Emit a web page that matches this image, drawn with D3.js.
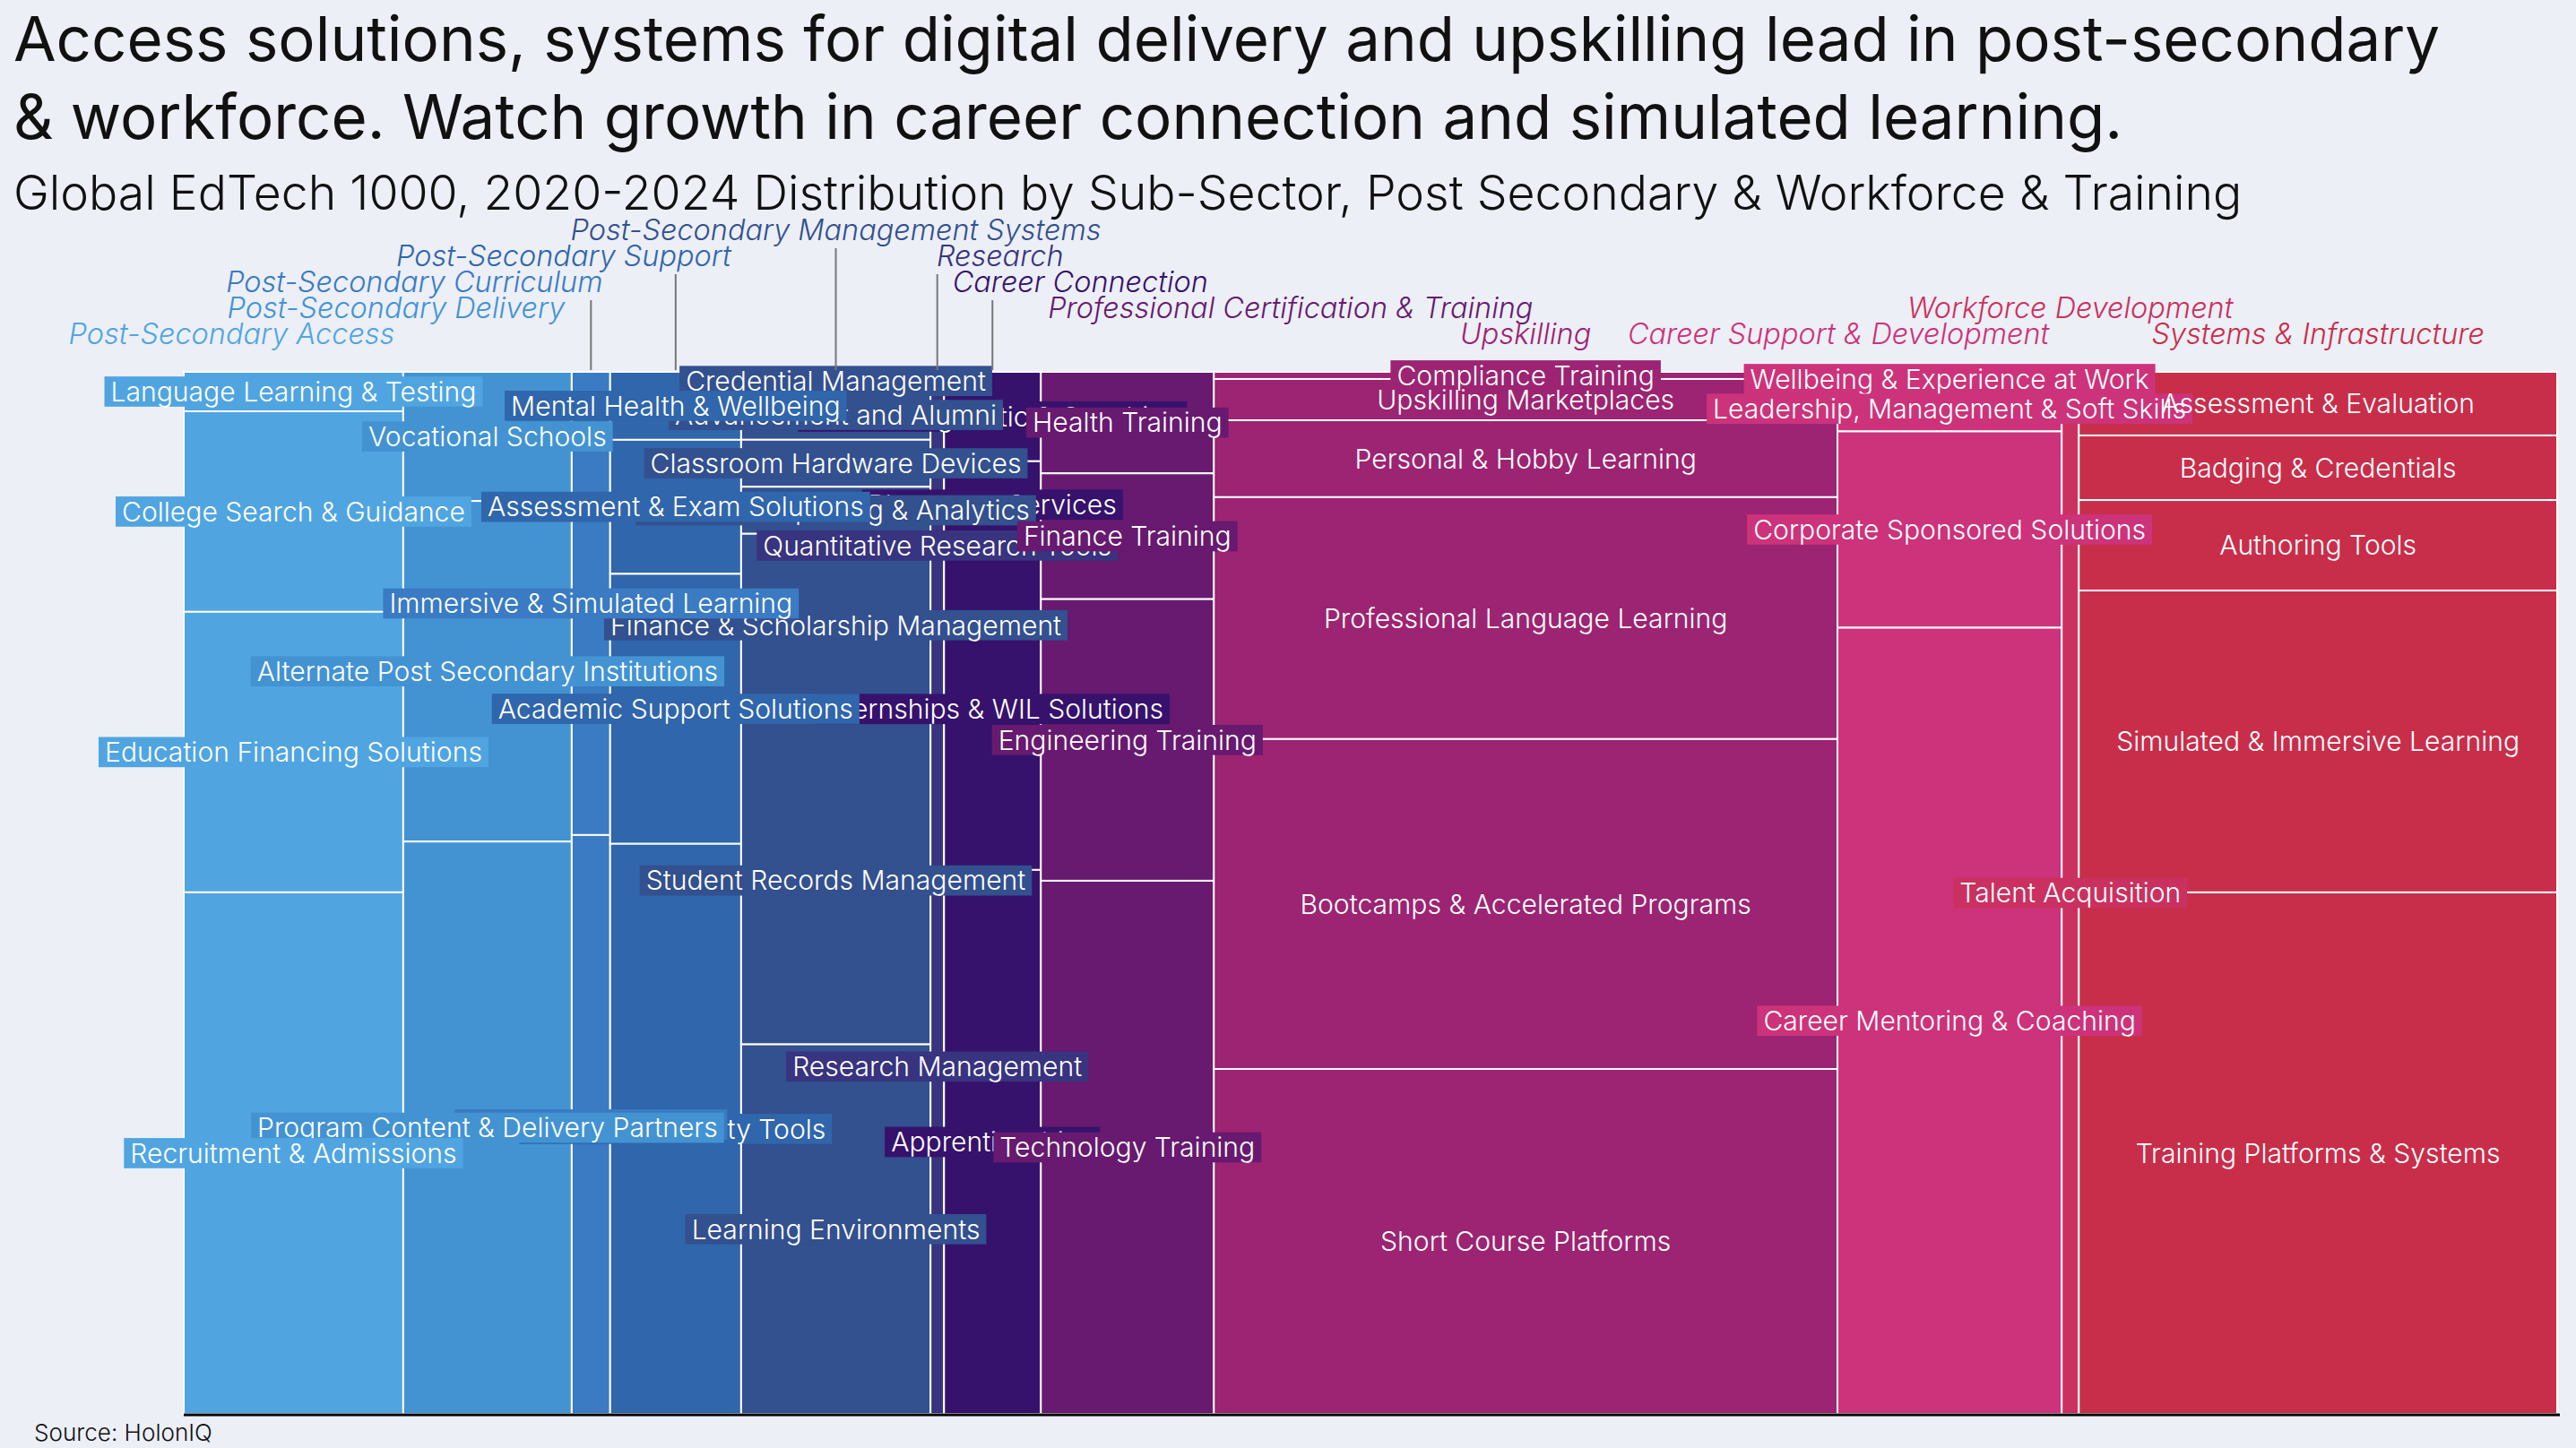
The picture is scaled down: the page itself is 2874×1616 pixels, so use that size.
<!DOCTYPE html>
<html lang="en">
<head>
<meta charset="UTF-8">
<title>Global EdTech 1000 – Post Secondary & Workforce</title>
<script src="https://cdn.jsdelivr.net/npm/d3@7"></script>
<style>
  body { margin: 0; background: #eceff6; }
  svg { display: block; font-family: Inter, "Open Sans", sans-serif; }
</style>
</head>
<body>
<svg id="chart" width="2874" height="1616"></svg>
<script>
// --- data ---------------------------------------------------------------
const sectors = [
  "Post-Secondary Access", "Post-Secondary Delivery", "Post-Secondary Curriculum",
  "Post-Secondary Support", "Post-Secondary Management Systems", "Research",
  "Career Connection", "Professional Certification & Training", "Upskilling",
  "Career Support & Development", "Workforce Development", "Systems & Infrastructure"
];

const subSectors = [
  ["Language Learning & Testing", "College Search & Guidance", "Education Financing Solutions", "Recruitment & Admissions"],
  ["Vocational Schools", "Alternate Post Secondary Institutions", "Program Content & Delivery Partners"],
  ["Immersive & Simulated Learning", "Content & Textbooks"],
  ["Mental Health & Wellbeing", "Assessment & Exam Solutions", "Academic Support Solutions", "Teacher & Faculty Tools"],
  ["Credential Management", "Advancement and Alumni", "Classroom Hardware Devices", "Business Reporting & Analytics",
   "Finance & Scholarship Management", "Student Records Management", "Learning Environments"],
  ["Quantitative Research Tools", "Research Management"],
  ["Career Diagnostic & Coaching", "Placement Services", "Internships & WIL Solutions", "Apprenticeships"],
  ["Health Training", "Finance Training", "Engineering Training", "Technology Training"],
  ["Compliance Training", "Upskilling Marketplaces", "Personal & Hobby Learning", "Professional Language Learning",
   "Bootcamps & Accelerated Programs", "Short Course Platforms"],
  ["Wellbeing & Experience at Work", "Leadership, Management & Soft Skills", "Corporate Sponsored Solutions",
   "Career Mentoring & Coaching"],
  ["Talent Acquisition"],
  ["Assessment & Evaluation", "Badging & Credentials", "Authoring Tools", "Simulated & Immersive Learning",
   "Training Platforms & Systems"]
];

// share of companies, per mille of the whole post-secondary + workforce set
const subSectorValues = [
  [3.5, 17.8, 24.9, 46.3],
  [8.8, 23.2, 39.0],
  [7.2, 9.0],
  [3.6, 7.1, 14.3, 30.2],
  [1.4, 3.8, 3.6, 3.6, 14.0, 25.1, 28.3],
  [1.9, 3.8],
  [3.5, 3.4, 12.6, 21.3],
  [7.1, 8.8, 19.7, 37.3],
  [1.8, 10.4, 19.4, 61.0, 83.2, 87.0],
  [1.3, 4.1, 17.8, 71.3],
  [7.2],
  [12.3, 12.5, 17.5, 58.4, 100.9]
];

const titleLines = [
  "Access solutions, systems for digital delivery and upskilling lead in post-secondary",
  "& workforce. Watch growth in career connection and simulated learning."
];
const subtitle = "Global EdTech 1000, 2020-2024 Distribution by Sub-Sector, Post Secondary & Workforce & Training";
const sourceNote = "Source: HolonIQ";

// where the italic sector names sit above the columns: stacking row and shift from column centre
const sectorLabelRow = [0, 1, 2, 3, 4, 3, 2, 1, 0, 0, 1, 0];
const sectorLabelShift = [-69, -102, -197, -125, 0, 70, 98, 182, 0, -124, 0, 0];

// --- chart --------------------------------------------------------------
const W = 2874, H = 1616;
const plot = { left: 205, right: 2853, top: 415, bottom: 1578 };

const color = d3.scaleOrdinal()
  .domain(sectors)
  .range(["#50a5e1", "#4393d3", "#3a7bc3", "#3066ab", "#33508f", "#38347f",
          "#36126c", "#671a6f", "#9c2472", "#cc337a", "#ca3160", "#c82e4a"]);

const svg = d3.select("#chart");
svg.append("rect").attr("width", W).attr("height", H).attr("fill", "#eceff6");

const colTotals = subSectorValues.map(v => d3.sum(v));
const grand = d3.sum(colTotals);
const x = d3.scaleLinear().domain([0, grand]).range([plot.left, plot.right]);

// flatten into cells
const columns = sectors.map((name, i) => {
  const start = d3.sum(colTotals.slice(0, i));
  const y = d3.scaleLinear().domain([0, colTotals[i]]).range([plot.top, plot.bottom]);
  let acc = 0;
  const cells = subSectors[i].map((label, j) => {
    const v = subSectorValues[i][j];
    const c = { col: i, sector: name, label, value: v,
      x0: x(start), x1: x(start + colTotals[i]), y0: y(acc), y1: y(acc + v) };
    acc += v;
    return c;
  });
  return { name, i, x0: x(start), x1: x(start + colTotals[i]), cells };
});
const cells = columns.flatMap(c => c.cells);

svg.append("g")
  .selectAll("rect")
  .data(cells)
  .join("rect")
    .attr("x", d => d.x0)
    .attr("y", d => d.y0)
    .attr("width", d => d.x1 - d.x0)
    .attr("height", d => d.y1 - d.y0)
    .attr("fill", d => color(d.sector))
    .attr("stroke", "#fff")
    .attr("stroke-width", 2);

// baseline
svg.append("line")
  .attr("x1", plot.left).attr("x2", plot.right + 3)
  .attr("y1", plot.bottom + 1).attr("y2", plot.bottom + 1)
  .attr("stroke", "#000").attr("stroke-width", 3);

// font size so that a sample string measures a given width
function fitSize(sample, target, style) {
  const t = svg.append("text").attr("font-size", 100).text(sample);
  if (style) t.attr("font-style", style.fontStyle || null).attr("font-weight", style.fontWeight || null);
  const w = t.node().getComputedTextLength();
  t.remove();
  return 100 * target / w;
}

const labelFs = fitSize("Language Learning & Testing", 408, { fontWeight: 300 });
const sectorFs = fitSize("Post-Secondary Management Systems", 592, { fontStyle: "italic", fontWeight: 300 });
const titleFs = fitSize(titleLines[0], 2707, { fontWeight: 400 });
const subFs = fitSize(subtitle, 2487, { fontWeight: 300 });
const srcFs = fitSize(sourceNote, 199, { fontWeight: 300 });

// cell labels: drawn post-secondary right-to-left, then workforce
const drawOrder = [6, 5, 4, 3, 2, 1, 0, 7, 8, 9, 10, 11];
const labelCells = drawOrder.flatMap(i => columns[i].cells);
const boxH = labelFs * 1.12, padX = 7;

const lab = svg.append("g")
  .selectAll("g")
  .data(labelCells)
  .join("g")
    .attr("transform", d => `translate(${(d.x0 + d.x1) / 2},${(d.y0 + d.y1) / 2})`);

lab.append("text")
  .attr("text-anchor", "middle")
  .attr("dy", "0.36em")
  .attr("font-size", labelFs)
  .attr("font-weight", 300)
  .attr("fill", "#fff")
  .text(d => d.label)
  .each(function(d) { d.tw = this.getComputedTextLength(); });

lab.filter(d => d.tw + 2 * padX > d.x1 - d.x0 - 2 || boxH > d.y1 - d.y0 - 2)
  .insert("rect", "text")
    .attr("x", d => -d.tw / 2 - padX)
    .attr("y", -boxH / 2)
    .attr("width", d => d.tw + 2 * padX)
    .attr("height", boxH)
    .attr("fill", d => color(d.sector));

// sector names above the columns
const rowY = r => 384 - r * 29;
const sectorG = svg.append("g");
columns.forEach(c => {
  const cx = (c.x0 + c.x1) / 2;
  const r = sectorLabelRow[c.i];
  if (r >= 2) {
    sectorG.append("line")
      .attr("x1", cx).attr("x2", cx)
      .attr("y1", rowY(r) + 9).attr("y2", plot.top - 2)
      .attr("stroke", "#777").attr("stroke-width", 2);
  }
  sectorG.append("text")
    .attr("x", cx + sectorLabelShift[c.i])
    .attr("y", rowY(r))
    .attr("text-anchor", "middle")
    .attr("font-size", sectorFs)
    .attr("font-style", "italic")
    .attr("font-weight", 300)
    .attr("fill", color(c.name))
    .text(c.name);
});

// titles
svg.append("g").selectAll("text")
  .data(titleLines)
  .join("text")
    .attr("x", 15)
    .attr("y", (d, i) => 68 + i * 87)
    .attr("font-size", titleFs)
    .attr("font-weight", 400)
    .attr("fill", "#111")
    .text(d => d);

svg.append("text")
  .attr("x", 15).attr("y", 234)
  .attr("font-size", subFs)
  .attr("font-weight", 300)
  .attr("fill", "#111")
  .text(subtitle);

svg.append("text")
  .attr("x", 38).attr("y", 1608)
  .attr("font-size", srcFs)
  .attr("font-weight", 300)
  .attr("fill", "#111")
  .text(sourceNote);
</script>
</body>
</html>
